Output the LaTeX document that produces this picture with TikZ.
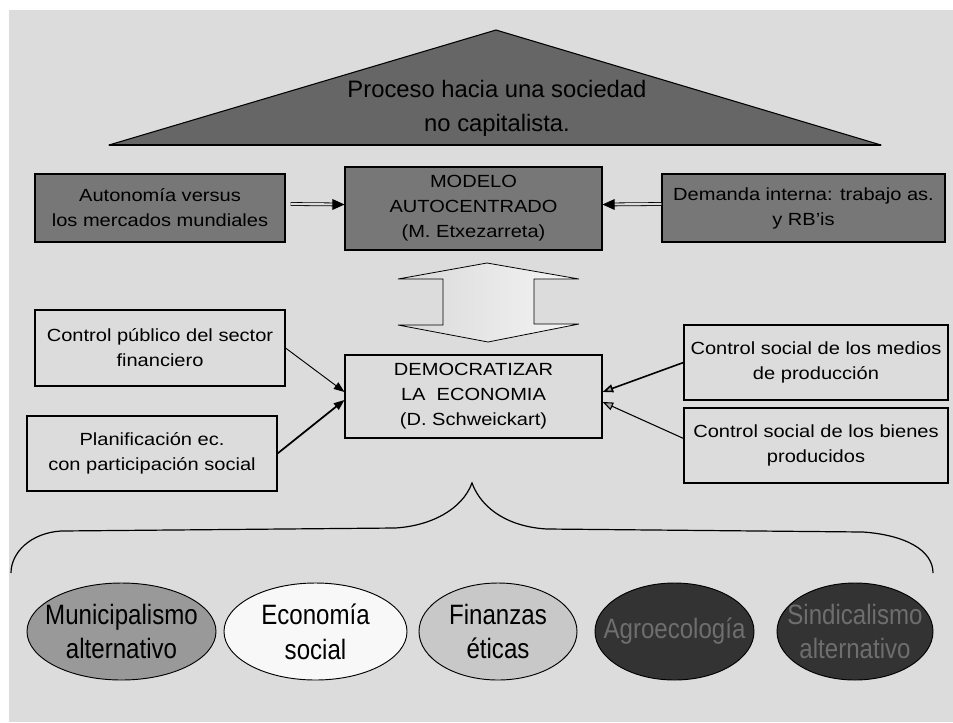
\documentclass[tikz,border=0pt]{standalone}
\usepackage{fontspec}
\setmainfont{Liberation Sans}
\newfontfamily\boxfont{Liberation Sans}[FakeStretch=1.14]
\usetikzlibrary{shapes.geometric,arrows.meta,calc}
\definecolor{bg}{HTML}{DCDCDC}
\definecolor{trigray}{HTML}{666666}
\definecolor{boxgray}{HTML}{777777}
\definecolor{muni}{HTML}{999999}
\definecolor{eco}{HTML}{F8F8F8}
\definecolor{fin}{HTML}{C8C8C8}
\definecolor{darkell}{HTML}{333333}
\definecolor{darktext}{HTML}{6E6E6E}
\newlength\pxu
\setlength\pxu{0.75pt}
\begin{document}
\begin{tikzpicture}[x=0.75pt,y=-0.75pt,
  boxbase/.style={draw=black, line width=0.8pt, inner sep=0pt, align=center,
    font=\boxfont\fontsize{13.2}{18.75}\selectfont},
  darkbox/.style={boxbase, fill=boxgray},
  litebox/.style={boxbase},
  ellbase/.style={ellipse, draw=black, line width=0.7pt, inner sep=0pt,
    minimum height=97\pxu},
  ellabel/.style={inner sep=0pt, align=center, xscale=0.86, transform shape,
    font=\fontsize{21}{26}\selectfont},
  dblline/.style={draw=black, double=bg, double distance=1.6pt, line width=0.6pt, shorten >=5pt},
  tiponly/.style={draw=black, line width=0.6pt, -{Triangle[length=9pt,width=8pt]}},
  thinarrow/.style={draw=black, line width=0.7pt, -{Triangle[length=8pt,width=6pt]}},
  thickarrow/.style={draw=black, line width=1.3pt, -{Triangle[length=8pt,width=6pt]}},
  openarrow/.style={draw=black, line width=0.8pt, -{Triangle[length=8pt,width=6pt,fill=gray!70]}}
]
\useasboundingbox (0,0) rectangle (953,722);
\fill[white] (0,0) rectangle (953,722);
\fill[bg] (9,10) rectangle (953,722);

% triangle
\draw[fill=trigray, line width=0.8pt, line join=round] (496,30) -- (881,145) -- (109,145) -- cycle;
\draw[line width=1.6pt] (109,145) -- (881,145);
\node[font=\fontsize{17.85}{25.5}\selectfont, align=center, text=black] (tri) at (497,108)
  {Proceso hacia una sociedad\\no capitalista.};

% top row
\node[darkbox, minimum width=250\pxu, minimum height=68\pxu] (auto) at (160,208)
  {Autonomía versus\\los mercados mundiales};
\node[darkbox, minimum width=257\pxu, minimum height=83\pxu] (modelo) at (473.5,208.5)
  {MODELO\\AUTOCENTRADO\\(M. Etxezarreta)};
\node[darkbox, minimum width=283\pxu, minimum height=68\pxu] (demanda) at (803.5,208)
  {Demanda interna: trabajo as.\\y RB’is};

\draw[dblline] ([shift={(5,-4)}]auto.east) -- ([yshift=3pt]modelo.west);
\draw[tiponly] ([shift={(-8pt,3pt)}]modelo.west) -- ([yshift=3pt]modelo.west);
\draw[dblline] ([yshift=3pt]demanda.west) -- ([yshift=3pt]modelo.east);
\draw[tiponly] ([shift={(8pt,3pt)}]modelo.east) -- ([yshift=3pt]modelo.east);

% up-down arrow
\shade[left color=gray!30, right color=gray!8, draw=black, line width=0.6pt]
  (487,263) -- (579,279) -- (534,279) -- (534,324) -- (579,324) -- (488,342)
  -- (398,325) -- (443,325) -- (443,279) -- (398,279) -- cycle;

% middle row
\node[litebox, minimum width=250\pxu, minimum height=76\pxu] (cpub) at (160,348)
  {Control público del sector\\financiero};
\node[litebox, minimum width=250\pxu, minimum height=75\pxu] (plan) at (152,453.5)
  {Planificación ec.\\con participación social};
\node[litebox, minimum width=257\pxu, minimum height=83\pxu] (demo) at (473.5,396.5)
  {DEMOCRATIZAR\\LA\ \ ECONOMIA\\(D. Schweickart)};
\node[litebox, minimum width=264\pxu, minimum height=75\pxu] (medios) at (816,362.5)
  {Control social de los medios\\de producción};
\node[litebox, minimum width=264\pxu, minimum height=75\pxu] (bienes) at (816,445.5)
  {Control social de los bienes\\producidos};

\draw[thinarrow] (cpub.east) -- ([yshift=3.4pt]demo.west);
\draw[thickarrow] (plan.east) -- ([yshift=-2.6pt]demo.west);
\draw[openarrow, line width=1.2pt] (medios.west) -- ([yshift=3.4pt]demo.east);
\draw[openarrow] ([yshift=5.3pt]bienes.west) -- ([yshift=-4.1pt]demo.east);

% brace
\draw[line width=0.9pt]
  (11,573) .. controls (11,553) and (30,533) .. (61,531)
  -- (395,528) .. controls (430,526) and (462,510) .. (472,483)
  .. controls (482,510) and (510,527) .. (547,529)
  -- (863,532) .. controls (905,535) and (933,550) .. (933,573);

% ellipses
\node[ellbase, fill=muni, minimum width=189\pxu] (muni) at (121.5,631.5) {};
\node[ellabel] (munit) at (muni.center) {Municipalismo\\alternativo};
\node[ellbase, fill=eco, minimum width=183\pxu] (eco) at (315.5,631.5) {};
\node[ellabel] (ecot) at (eco.center) {Economía\\social};
\node[ellbase, fill=fin, minimum width=158\pxu] (fin) at (498,631.5) {};
\node[ellabel] (fint) at (fin.center) {Finanzas\\éticas};
\node[ellbase, fill=darkell, minimum width=159\pxu] (agro) at (674.5,631.5) {};
\node[ellabel, text=darktext] (agrot) at (agro.center) {Agroecología};
\node[ellbase, fill=darkell, minimum width=156\pxu] (sind) at (855,631.5) {};
\node[ellabel, text=darktext] (sindt) at (sind.center) {Sindicalismo\\alternativo};
\end{tikzpicture}
\end{document}
